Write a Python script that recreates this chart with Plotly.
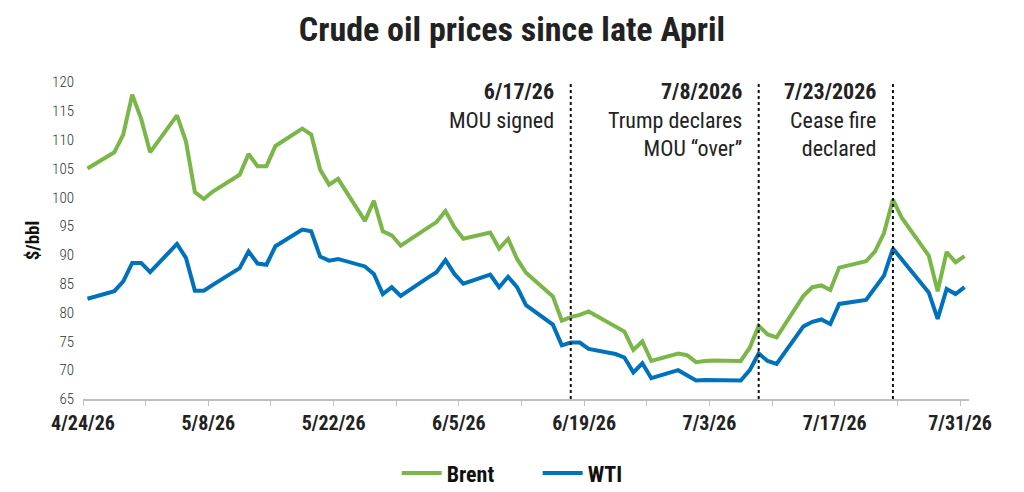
import pandas as pd
import plotly.graph_objects as go

# trading days, 4/24/26 - 7/31/26
dates = ["2026-04-24", "2026-04-27", "2026-04-28", "2026-04-29", "2026-04-30", "2026-05-01",
         "2026-05-04", "2026-05-05", "2026-05-06", "2026-05-07", "2026-05-08",
         "2026-05-11", "2026-05-12", "2026-05-13", "2026-05-14", "2026-05-15",
         "2026-05-18", "2026-05-19", "2026-05-20", "2026-05-21", "2026-05-22",
         "2026-05-25", "2026-05-26", "2026-05-27", "2026-05-28", "2026-05-29",
         "2026-06-01", "2026-06-02", "2026-06-03", "2026-06-04", "2026-06-05",
         "2026-06-08", "2026-06-09", "2026-06-10", "2026-06-11", "2026-06-12",
         "2026-06-15", "2026-06-16", "2026-06-17", "2026-06-18", "2026-06-19",
         "2026-06-22", "2026-06-23", "2026-06-24", "2026-06-25", "2026-06-26",
         "2026-06-29", "2026-06-30", "2026-07-01", "2026-07-02", "2026-07-03",
         "2026-07-06", "2026-07-07", "2026-07-08", "2026-07-09", "2026-07-10",
         "2026-07-13", "2026-07-14", "2026-07-15", "2026-07-16", "2026-07-17",
         "2026-07-20", "2026-07-21", "2026-07-22", "2026-07-23", "2026-07-24",
         "2026-07-27", "2026-07-28", "2026-07-29", "2026-07-30", "2026-07-31"]

brent = [105.0, 107.8, 110.9, 117.8, 113.6, 107.8,
         114.2, 109.7, 100.9, 99.7, 101.0,
         103.9, 107.5, 105.4, 105.4, 108.9,
         111.9, 110.9, 104.8, 102.2, 103.2,
         95.9, 99.4, 94.1, 93.4, 91.6,
         94.7, 95.7, 97.6, 94.8, 92.8,
         93.9, 91.1, 92.8, 89.3, 86.9,
         82.8, 78.6, 79.2, 79.6, 80.2,
         77.6, 76.7, 73.5, 75.0, 71.6,
         72.9, 72.6, 71.4, 71.6, 71.7,
         71.6, 73.9, 77.7, 76.2, 75.7,
         82.9, 84.4, 84.7, 83.9, 87.8,
         88.9, 90.6, 93.8, 99.6, 96.4,
         89.9, 83.7, 90.5, 88.7, 89.8]

wti = [82.4, 83.7, 85.4, 88.6, 88.6, 87.0,
       91.9, 89.5, 83.8, 83.8, 84.8,
       87.7, 90.6, 88.5, 88.3, 91.5,
       94.4, 94.1, 89.7, 89.0, 89.3,
       88.0, 86.7, 83.2, 84.4, 82.9,
       86.0, 87.0, 89.1, 86.7, 85.0,
       86.6, 84.4, 86.2, 84.4, 81.3,
       77.9, 74.3, 74.8, 74.8, 73.7,
       72.8, 72.2, 69.6, 71.2, 68.6,
       70.0, 69.0, 68.2, 68.3, 68.3,
       68.2, 70.0, 72.9, 71.6, 71.1,
       77.6, 78.4, 78.8, 78.0, 81.5,
       82.2, 84.3, 86.4, 91.1, 89.2,
       83.5, 78.9, 84.1, 83.2, 84.4]

event_dates = ["2026-06-17", "2026-07-08", "2026-07-23"]
event_heads = ["6/17/26", "7/8/2026", "7/23/2026"]
event_texts = ["MOU signed", "Trump declares<br>MOU \u201cover\u201d", "Cease fire<br>declared"]

COND = "Roboto Condensed, Liberation Sans Narrow, Roboto, sans-serif"
GREEN = "#7ab648"
BLUE = "#0072bc"

# points sit in the middle of their day, like a date axis in excel
x = pd.to_datetime(dates) + pd.Timedelta(hours=12)
ev = pd.to_datetime(event_dates) + pd.Timedelta(hours=12)

fig = go.Figure()
fig.add_trace(go.Scatter(x=x, y=brent, name="Brent", mode="lines",
                         line=dict(color=GREEN, width=4)))
fig.add_trace(go.Scatter(x=x, y=wti, name="WTI", mode="lines",
                         line=dict(color=BLUE, width=4)))

for d, head, txt in zip(ev, event_heads, event_texts):
    fig.add_shape(type="line", x0=d, x1=d, y0=65, y1=120, xref="x", yref="y",
                  line=dict(color="#111111", width=2, dash="dot"))
    fig.add_annotation(x=d, y=1, xref="x", yref="paper", xanchor="right", yanchor="top",
                       xshift=-15, yshift=5, showarrow=False, align="right",
                       text="<b>" + head + "</b><br>" + txt,
                       font=dict(family=COND, size=22, color="#222222"))

fig.update_layout(
    width=1024, height=492,
    margin=dict(l=83, r=55, t=82, b=93),
    paper_bgcolor="white", plot_bgcolor="white",
    title=dict(text="<b>Crude oil prices since late April</b>", x=0.5, xanchor="center",
               y=0.94, yanchor="middle", font=dict(family=COND, size=34, color="#222222")),
    showlegend=True,
    legend=dict(orientation="h", x=0.354, xanchor="left", y=0.038, yanchor="middle",
                yref="container", entrywidth=86,
                font=dict(family=COND, size=22, color="#111111", weight="bold"), itemwidth=40),
    font=dict(family=COND),
)

fig.update_xaxes(
    type="date", range=["2026-04-24", "2026-08-01"],
    tick0="2026-04-24", dtick=14 * 86400000, tickformat="%-m/%-d/%y",
    showgrid=False, showline=True, linecolor="#bfbfbf", linewidth=1.5,
    ticks="outside", ticklen=5, tickcolor="#bfbfbf",
    minor=dict(dtick=7 * 86400000, tick0="2026-04-24", ticks="outside", ticklen=5,
               tickcolor="#bfbfbf", showgrid=False),
    tickfont=dict(family=COND, size=20, color="#222222", weight="bold"),
    zeroline=False,
)
fig.update_yaxes(
    range=[65, 120], dtick=5, tick0=65, showgrid=False, zeroline=False, showline=False,
    ticks="", ticklabelstandoff=8,
    tickfont=dict(family=COND, size=15, color="#333333", weight=300),
    title=dict(text="<b>$/bbl</b>", standoff=7, font=dict(family=COND, size=19, color="#111111")),
)

# page body has an 8px default margin; drop it so the figure fills the window
fig.write_html("out.html", config={"displayModeBar": False},
               post_script="document.body.style.margin='0px';")
